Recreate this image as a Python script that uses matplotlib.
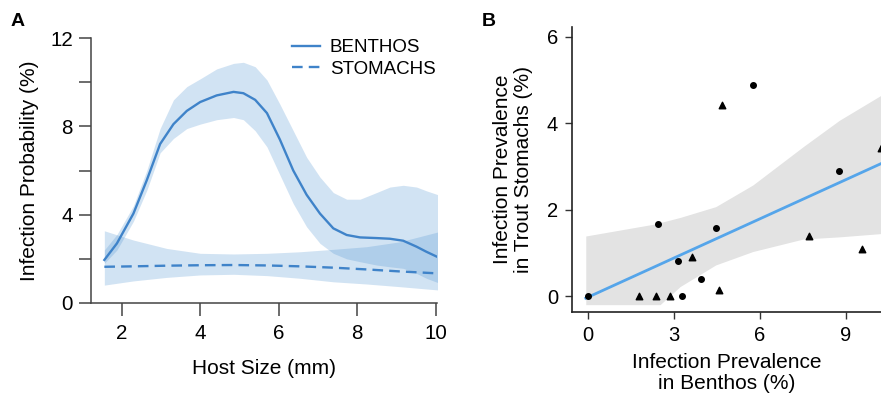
import matplotlib
matplotlib.use("Agg")
import matplotlib.pyplot as plt
import numpy as np

plt.rcParams['font.family'] = ['Liberation Sans', 'DejaVu Sans']

# ---------------- Panel A data ----------------
host_size = [1.56, 1.88, 2.3, 2.64, 2.98, 3.32, 3.66, 4.0, 4.42, 4.85, 5.1, 5.4, 5.7,
             6.03, 6.37, 6.71, 7.05, 7.39, 7.73, 8.07, 8.49, 8.83, 9.17, 9.51, 9.76, 10.06]
benthos = [1.95, 2.7, 4.05, 5.56, 7.2, 8.1, 8.7, 9.1, 9.4, 9.56, 9.5, 9.2, 8.6,
           7.4, 6.0, 4.9, 4.05, 3.38, 3.08, 2.97, 2.94, 2.91, 2.82, 2.55, 2.32, 2.07]
benthos_hi = [2.4, 3.1, 4.4, 6.0, 7.9, 9.2, 9.8, 10.15, 10.6, 10.85, 10.9, 10.7, 10.1,
              9.0, 7.8, 6.6, 5.7, 5.0, 4.7, 4.7, 5.0, 5.25, 5.33, 5.25, 5.08, 4.9]
benthos_lo = [1.8, 2.4, 3.7, 5.1, 6.8, 7.45, 7.9, 8.1, 8.3, 8.4, 8.3, 7.8, 7.07,
              5.8, 4.5, 3.45, 2.7, 2.25, 2.0, 1.87, 1.72, 1.64, 1.57, 1.34, 1.12, 0.92]

stom_x = [1.56, 2.3, 3.15, 4.0, 4.85, 5.7, 6.54, 7.39, 8.24, 9.08, 10.06]
stomachs = [1.64, 1.66, 1.69, 1.71, 1.72, 1.7, 1.66, 1.6, 1.52, 1.43, 1.34]
stom_hi = [3.27, 2.85, 2.47, 2.25, 2.22, 2.25, 2.32, 2.43, 2.55, 2.77, 3.22]
stom_lo = [0.81, 1.0, 1.16, 1.27, 1.3, 1.24, 1.12, 0.96, 0.86, 0.74, 0.59]

a_xticks = [2, 4, 6, 8, 10]
a_yticks = [0, 2, 4, 6, 8, 10, 12]
a_ylabels = ['0', '', '4', '', '8', '', '12']

# ---------------- Panel B data ----------------
circ_x = [0.0, 2.44, 3.14, 3.29, 3.96, 4.46, 5.75, 8.77]
circ_y = [0.0, 1.66, 0.81, 0.0, 0.39, 1.57, 4.89, 2.9]
tri_x = [1.79, 2.38, 2.87, 3.62, 4.56, 4.69, 7.72, 9.57, 10.22]
tri_y = [0.0, 0.0, 0.0, 0.91, 0.15, 4.42, 1.39, 1.10, 3.42]

fit_x = [-0.07, 10.3]
fit_y = [-0.05, 3.09]
band_x = [-0.07, 2.44, 2.52, 3.22, 4.46, 5.75, 7.51, 8.77, 10.3]
band_hi = [1.39, 1.68, 1.70, 1.82, 2.07, 2.57, 3.46, 4.07, 4.68]
band_lo = [-0.2, -0.2, -0.2, 0.22, 0.72, 1.03, 1.32, 1.37, 1.45]

b_xticks = [0, 3, 6, 9]
b_yticks = [0, 2, 4, 6]

# ---------------- Figure ----------------
fig = plt.figure(figsize=(8.81, 3.98), dpi=100)

blue = '#3f83c9'
fillc = '#4a90d0'

axA = fig.add_axes([91/881, 1-303/398, (437-91)/881, (303-38)/398])
axA.fill_between(host_size, benthos_lo, benthos_hi, color=fillc, alpha=0.25, lw=0)
axA.fill_between(stom_x, stom_lo, stom_hi, color=fillc, alpha=0.25, lw=0)
axA.plot(host_size, benthos, color=blue, lw=1.7, label='BENTHOS')
axA.plot(stom_x, stomachs, color=blue, lw=1.7, dashes=(4.5, 2.6), label='STOMACHS')
axA.set_xlim(1.22, 10.03)
axA.set_ylim(0, 12)
axA.set_xticks(a_xticks)
axA.set_yticks(a_yticks)
axA.set_yticklabels(a_ylabels)
for s in ['top', 'right']:
    axA.spines[s].set_visible(False)
for s in ['left', 'bottom']:
    axA.spines[s].set_color('#444444')
    axA.spines[s].set_linewidth(1.1)
axA.tick_params(axis='both', direction='out', length=9, width=1.1, color='#444444',
                labelsize=14.8, pad=4)
axA.tick_params(axis='x', pad=6)
axA.set_xlabel('Host Size (mm)', fontsize=15, labelpad=12)
axA.set_ylabel('Infection Probability (%)', fontsize=15, labelpad=8)
leg = axA.legend(loc='upper right', frameon=False, fontsize=13.5, handlelength=1.45,
                 handletextpad=0.55, labelspacing=0.25, bbox_to_anchor=(1.045, 1.06))
fig.text(18/881, 1-22/398, 'A', fontsize=14, fontweight='bold', ha='center', va='center')

axB = fig.add_axes([572/881, 1-312/398, (881-572)/881, (312-27)/398])
axB.fill_between(band_x, band_lo, band_hi, color='#e3e3e3', lw=0, zorder=1)
axB.plot(fit_x, fit_y, color='#55a5ea', lw=2.0, zorder=2)
axB.scatter(circ_x, circ_y, marker='o', s=16, color='black', zorder=3, clip_on=False)
axB.scatter(tri_x, tri_y, marker='^', s=22, color='black', zorder=3)
axB.set_xlim(-0.55, 10.22)
axB.set_ylim(-0.37, 6.23)
axB.set_xticks(b_xticks)
axB.set_yticks(b_yticks)
for s in ['top', 'right']:
    axB.spines[s].set_visible(False)
for s in ['left', 'bottom']:
    axB.spines[s].set_color('#222222')
    axB.spines[s].set_linewidth(1.2)
axB.tick_params(axis='both', direction='out', length=5, width=1.0, color='#333333',
                labelsize=14.5, pad=5)
axB.set_xlabel('Infection Prevalence\nin Benthos (%)', fontsize=15, labelpad=6,
               linespacing=1.15)
axB.set_ylabel('Infection Prevalence\nin Trout Stomachs (%)', fontsize=15, labelpad=10,
               linespacing=1.15)
fig.text(489/881, 1-22/398, 'B', fontsize=14, fontweight='bold', ha='center', va='center')

fig.savefig('out.png', dpi=100)
